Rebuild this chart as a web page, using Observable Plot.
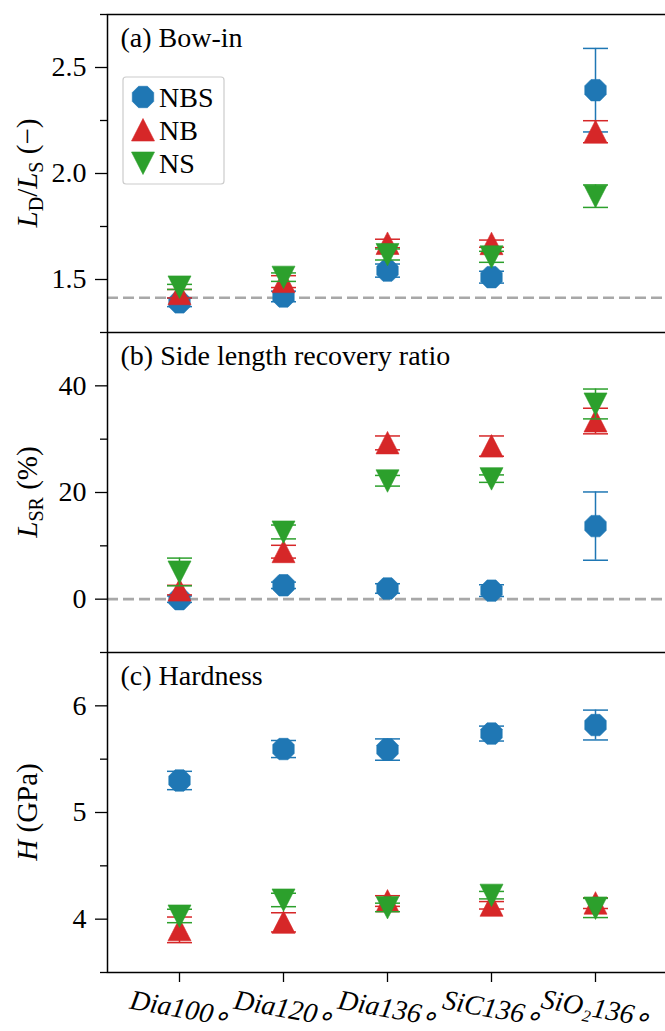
<!DOCTYPE html>
<html>
<head>
<meta charset="utf-8">
<script src="https://cdn.jsdelivr.net/npm/d3@7"></script>
<script src="https://cdn.jsdelivr.net/npm/@observablehq/plot@0.6"></script>
<style>
  html, body { margin: 0; padding: 0; background: #fff; overflow: hidden; }
  #wrap { position: relative; width: 665px; height: 1031px; overflow: hidden; }
  #wrap svg { display: block; max-width: none !important; }
</style>
</head>
<body>
<div id="wrap"></div>
<script>
// ---------------- data ----------------
const categories = ["Dia100", "Dia120", "Dia136", "SiC136", "SiO2136"];
const xTickLabels = ["Dia100\u2218", "Dia120\u2218", "Dia136\u2218", "SiC136\u2218", "SiO\u2082136\u2218"];
const seriesNames = ["NBS", "NB", "NS"];
const seriesColors = ["#1f77b4", "#d62728", "#2ca02c"];

// (a) Bow-in  L_D/L_S
const bowNBS    = [1.392, 1.420, 1.542, 1.511, 2.393];
const bowNBSErr = [0.020, 0.025, 0.031, 0.028, 0.197];
const bowNB     = [1.433, 1.490, 1.670, 1.669, 2.197];
const bowNBErr  = [0.020, 0.028, 0.020, 0.017, 0.052];
const bowNS     = [1.465, 1.511, 1.618, 1.607, 1.893];
const bowNSErr  = [0.012, 0.020, 0.026, 0.026, 0.053];
const bowRef    = [1.4142];
const bowDomain = [1.25, 2.75];
const bowMajor  = [1.5, 2.0, 2.5];
const bowMinor  = [1.25, 1.75, 2.25, 2.75];

// (b) Side length recovery ratio  L_SR (%)
const lsrNBS    = [0.0, 2.6, 2.0, 1.6, 13.7];
const lsrNBSErr = [0.6, 0.6, 0.9, 1.1, 6.4];
const lsrNB     = [1.7, 8.9, 29.3, 28.7, 33.4];
const lsrNBErr  = [0.9, 1.2, 1.3, 1.9, 2.4];
const lsrNS     = [5.1, 12.6, 22.2, 22.6, 36.6];
const lsrNSErr  = [2.6, 1.3, 1.0, 0.7, 2.8];
const lsrRef    = [0];
const lsrDomain = [-10, 50];
const lsrMajor  = [0, 20, 40];
const lsrMinor  = [-10, 10, 30, 50];

// (c) Hardness  H (GPa)
const hNBS    = [5.300, 5.595, 5.590, 5.740, 5.820];
const hNBSErr = [0.086, 0.080, 0.100, 0.070, 0.140];
const hNB     = [3.900, 3.970, 4.170, 4.130, 4.150];
const hNBErr  = [0.120, 0.090, 0.050, 0.035, 0.050];
const hNS     = [4.030, 4.180, 4.110, 4.225, 4.105];
const hNSErr  = [0.063, 0.063, 0.040, 0.035, 0.090];
const hDomain = [3.5, 6.5];
const hMajor  = [4, 5, 6];
const hMinor  = [3.5, 4.5, 5.5, 6.5];

// ---------------- symbols ----------------
const FONT = "'Liberation Serif', 'Times New Roman', Times, serif";
const octagon = { draw(ctx) {
  const R = 11.6;
  for (let k = 0; k < 8; k++) {
    const a = (22.5 + 45 * k) * Math.PI / 180;
    const px = R * Math.cos(a), py = R * Math.sin(a);
    if (k === 0) ctx.moveTo(px, py); else ctx.lineTo(px, py);
  }
  ctx.closePath();
}};
const triUp = { draw(ctx) { ctx.moveTo(0, -11.5); ctx.lineTo(11.5, 11); ctx.lineTo(-11.5, 11); ctx.closePath(); } };
const triDown = { draw(ctx) { ctx.moveTo(0, 11.5); ctx.lineTo(11.5, -11); ctx.lineTo(-11.5, -11); ctx.closePath(); } };
const capSym = { draw(ctx) { ctx.moveTo(-12.5, 0); ctx.lineTo(12.5, 0); } };
const seriesSymbols = [octagon, triUp, triDown];

function panel({values, errs, domain, major, minor, fmt, ref, title, height, mt, mb, bottom}) {
  const marks = [];
  if (ref) marks.push(Plot.ruleY(ref, {stroke: "#a8a8a8", strokeWidth: 2.6, strokeDasharray: "11,5"}));
  marks.push(Plot.axisY(major, {tickSize: 12, tickPadding: 9, tickFormat: fmt, label: null, fontSize: 28, strokeWidth: 1.3}));
  marks.push(Plot.axisY(minor, {tickSize: 7, tickFormat: () => "", label: null, strokeWidth: 1.3}));
  seriesNames.forEach((s, si) => {
    const rows = categories.map((c, i) => ({cat: c, v: values[si][i], lo: values[si][i] - errs[si][i], hi: values[si][i] + errs[si][i]}));
    const col = seriesColors[si];
    marks.push(Plot.ruleX(rows, {x: "cat", y1: "lo", y2: "hi", stroke: col, strokeWidth: 1.5}));
    marks.push(Plot.dot(rows, {x: "cat", y: "lo", symbol: capSym, stroke: col, fill: "none", strokeWidth: 1.5}));
    marks.push(Plot.dot(rows, {x: "cat", y: "hi", symbol: capSym, stroke: col, fill: "none", strokeWidth: 1.5}));
    marks.push(Plot.dot(rows, {x: "cat", y: "v", symbol: seriesSymbols[si], fill: col, stroke: col, strokeWidth: 0.6}));
  });
  marks.push(Plot.text([title], {frameAnchor: "top-left", dx: 13, dy: 13, lineAnchor: "top", textAnchor: "start", fontSize: 28, fill: "#000"}));
  if (bottom) {
    marks.push(Plot.axisX({tickSize: 10, tickFormat: () => "", label: null, strokeWidth: 1.3}));
    marks.push(Plot.text(categories, {x: d => d, text: (d, i) => xTickLabels[i], frameAnchor: "bottom", dx: 1, dy: 36, rotate: 10,
      fontFamily: FONT, fontStyle: "italic", fontSize: 28, textAnchor: "middle", lineAnchor: "middle", fill: "#000"}));
  }
  marks.push(Plot.frame({stroke: "#000", strokeWidth: 1.5}));
  return Plot.plot({
    width: 672, height,
    marginTop: mt, marginBottom: mb, marginLeft: 107, marginRight: 0,
    style: {fontFamily: FONT, fontSize: "28px", color: "#000", background: "#fff", maxWidth: "none"},
    x: {type: "point", domain: categories, range: [179, 595], padding: 0, axis: null},
    y: {domain, axis: null},
    marks
  });
}

function yTitle(svg, cy, parts) {
  const t = d3.select(svg).append("text")
    .attr("transform", `translate(37,${cy}) rotate(-90)`)
    .attr("text-anchor", "middle")
    .attr("fill", "#000")
    .style("font-family", FONT).style("font-size", "29px");
  let shifted = 0;
  parts.forEach(p => {
    const ts = t.append("tspan").text(p.t);
    if (p.i) ts.style("font-style", "italic");
    if (p.sub) { ts.style("font-size", "20px").attr("dy", 6 - shifted); shifted = 6; }
    else if (shifted) { ts.attr("dy", -shifted); shifted = 0; }
  });
}

const wrap = document.getElementById("wrap");

const pa = panel({values: [bowNBS, bowNB, bowNS], errs: [bowNBSErr, bowNBErr, bowNSErr], domain: bowDomain,
  major: bowMajor, minor: bowMinor, fmt: d3.format(".1f"), ref: bowRef, title: "(a) Bow-in", height: 332, mt: 14, mb: 0});
const pb = panel({values: [lsrNBS, lsrNB, lsrNS], errs: [lsrNBSErr, lsrNBErr, lsrNSErr], domain: lsrDomain,
  major: lsrMajor, minor: lsrMinor, fmt: d3.format("d"), ref: lsrRef, title: "(b) Side length recovery ratio", height: 320, mt: 0, mb: 0});
const pc = panel({values: [hNBS, hNB, hNS], errs: [hNBSErr, hNBErr, hNSErr], domain: hDomain,
  major: hMajor, minor: hMinor, fmt: d3.format("d"), ref: null, title: "(c) Hardness", height: 379, mt: 0, mb: 59, bottom: true});

wrap.append(pa, pb, pc);

yTitle(pa, 173, [{t: "L", i: true}, {t: "D", sub: true}, {t: "/"}, {t: "L", i: true}, {t: "S", sub: true}, {t: " (\u2212)"}]);
yTitle(pb, 160, [{t: "L", i: true}, {t: "SR", sub: true}, {t: " (%)"}]);
yTitle(pc, 160, [{t: "H", i: true}, {t: " (GPa)"}]);

// legend inside panel (a)
const lg = d3.select(pa).append("g");
lg.append("rect").attr("x", 123).attr("y", 77).attr("width", 101).attr("height", 107)
  .attr("rx", 3).attr("fill", "#fff").attr("fill-opacity", 0.8).attr("stroke", "#cccccc").attr("stroke-width", 1.2);
const symPaths = seriesSymbols.map(s => { const p = d3.path(); s.draw(p); return p.toString(); });
seriesNames.forEach((s, i) => {
  const cy = 97 + i * 33;
  lg.append("path").attr("d", symPaths[i]).attr("transform", `translate(143,${cy})`)
    .attr("fill", seriesColors[i]).attr("stroke", seriesColors[i]).attr("stroke-width", 0.6);
  lg.append("text").attr("x", 159).attr("y", cy).attr("dy", "0.34em").attr("text-anchor", "start").attr("fill", "#000")
    .style("font-family", FONT).style("font-size", "28px").text(s);
});
</script>
</body>
</html>
